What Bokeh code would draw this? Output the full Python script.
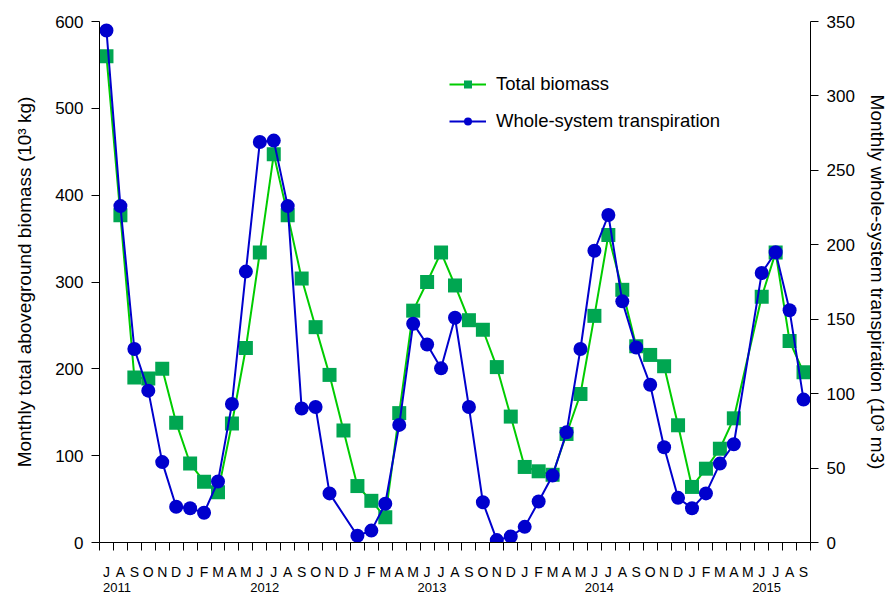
import pandas as pd
from bokeh.plotting import figure
from bokeh.models import (Range1d, LinearAxis, FixedTicker, Legend, LegendItem,
                          CustomJSTickFormatter)
from bokeh.embed import file_html
from bokeh.resources import INLINE

FONT = "Liberation Sans"

# Monthly series, July 2011 - September 2015 (None = no measurement that month)
months = pd.period_range("2011-07", "2015-09", freq="M")
month_letters = [m.strftime("%b")[0] for m in months]
year_labels = ["2011", "2012", "2013", "2014", "2015"]

# Total aboveground biomass (10^3 kg)
biomass = [560, 377, 190, 189, 200, 138,
           91, 70, 58, 137, 224, 334, 447, 377, 304, 248, 193, 129,
           65, 48, 29, 149, 267, 300, 334, 296, 256, 245, 202, 145,
           87, 82, 78, 125, 171, 261, 354, 291, 226, 216, 203, 135,
           64, 85, 108, 143, None, 283, 334, 232, 196]

# Whole-system transpiration (10^3 m3)
transpiration = [344, 226, 130, 102, 54, 24,
                 23, 20, 41, 93, 182, 269, 270, 226, 90, 91, 33, None,
                 4.5, 8, 26, 79, 147, 133, 117, 151, 91, 27, 1.6, 4,
                 10.5, 27.5, 45, 74, 130, 196, 220, 162, 131, 106, 64, 30,
                 23, 33, 53, 66, None, 181, 195, 156, 96]


def present(values):
    xs = [i + 0.5 for i, v in enumerate(values) if v is not None]
    ys = [v for v in values if v is not None]
    return xs, ys


bx, by = present(biomass)
tx, ty = present(transpiration)

n = len(months)
p = figure(width=891, height=594, x_range=Range1d(0, n), y_range=Range1d(0, 600),
           output_backend="svg", toolbar_location=None,
           min_border_left=99, min_border_right=81, min_border_top=21, min_border_bottom=47)
p.grid.visible = False
p.outline_line_color = None
p.extra_y_ranges = {"tr": Range1d(0, 350)}

# month axis: letters centred in each month, small ticks on month boundaries
xa = p.xaxis[0]
xa.ticker = FixedTicker(ticks=[i + 0.5 for i in range(n)], minor_ticks=list(range(n + 1)))
xa.formatter = CustomJSTickFormatter(args=dict(labels=month_letters), code="return labels[index]")
xa.major_tick_out = 0
xa.major_tick_in = 0
xa.minor_tick_out = 8
xa.minor_tick_in = 0
xa.major_label_standoff = 13
xa.major_label_text_font = FONT
xa.major_label_text_font_size = "14px"
xa.major_label_text_color = "black"
xa.axis_line_color = "black"
xa.minor_tick_line_color = "black"

# year axis: one label per July boundary, first one nudged inside the frame
july_idx = [i for i, m in enumerate(months) if m.month == 7]
year_ticks = [j - 0.15 for j in july_idx]
year_ticks[0] = 1.25
yr = LinearAxis(ticker=FixedTicker(ticks=year_ticks),
                formatter=CustomJSTickFormatter(args=dict(labels=year_labels), code="return labels[index]"),
                axis_line_color=None, major_tick_line_color=None, minor_tick_line_color=None,
                major_tick_out=0, major_tick_in=0, major_label_standoff=0,
                major_label_text_font=FONT, major_label_text_font_size="13px",
                major_label_text_color="black")
p.add_layout(yr, "below")

# left axis: biomass
ya = p.yaxis[0]
ya.ticker = FixedTicker(ticks=list(range(0, 601, 100)))
ya.major_tick_out = 8
ya.major_tick_in = 0
ya.minor_tick_line_color = None
ya.major_label_standoff = 8
ya.major_label_text_font = FONT
ya.major_label_text_font_size = "17px"
ya.major_label_text_color = "black"
ya.axis_label = "Monthly total aboveground biomass (10³ kg)"
ya.axis_label_text_font = FONT
ya.axis_label_text_font_size = "19px"
ya.axis_label_text_font_style = "normal"
ya.axis_label_text_color = "black"
ya.axis_label_standoff = 17
ya.axis_line_color = "black"

# right axis: transpiration
ra = LinearAxis(y_range_name="tr", ticker=FixedTicker(ticks=list(range(0, 351, 50))),
                major_tick_out=8, major_tick_in=0, minor_tick_line_color=None,
                major_label_standoff=8, major_label_text_font=FONT,
                major_label_text_font_size="17px", major_label_text_color="black",
                axis_label="Monthly whole-system transpiration (10³ m3)",
                axis_label_text_font=FONT, axis_label_text_font_size="19px",
                axis_label_text_font_style="normal", axis_label_text_color="black",
                axis_label_standoff=9, axis_line_color="black")
p.add_layout(ra, "right")

# series
g_line = p.line(bx, by, line_color="#00CC00", line_width=2)
g_pts = p.scatter(bx, by, marker="square", size=14, fill_color="#00A651", line_color=None)
b_line = p.line(tx, ty, line_color="#0000CD", line_width=2, y_range_name="tr")
b_pts = p.scatter(tx, ty, marker="circle", size=14, fill_color="#0000CD", line_color=None,
                  y_range_name="tr")

legend = Legend(items=[LegendItem(label="Total biomass", renderers=[g_line, g_pts]),
                       LegendItem(label="Whole-system transpiration", renderers=[b_line, b_pts])],
                location=(350, 410), border_line_color=None, background_fill_alpha=0,
                label_text_font=FONT, label_text_font_size="18.5px", label_text_color="black",
                glyph_width=37, glyph_height=20, label_height=20, spacing=15,
                padding=0, margin=0, label_standoff=10)
p.add_layout(legend)

open("out.html", "w").write(file_html(p, INLINE))
